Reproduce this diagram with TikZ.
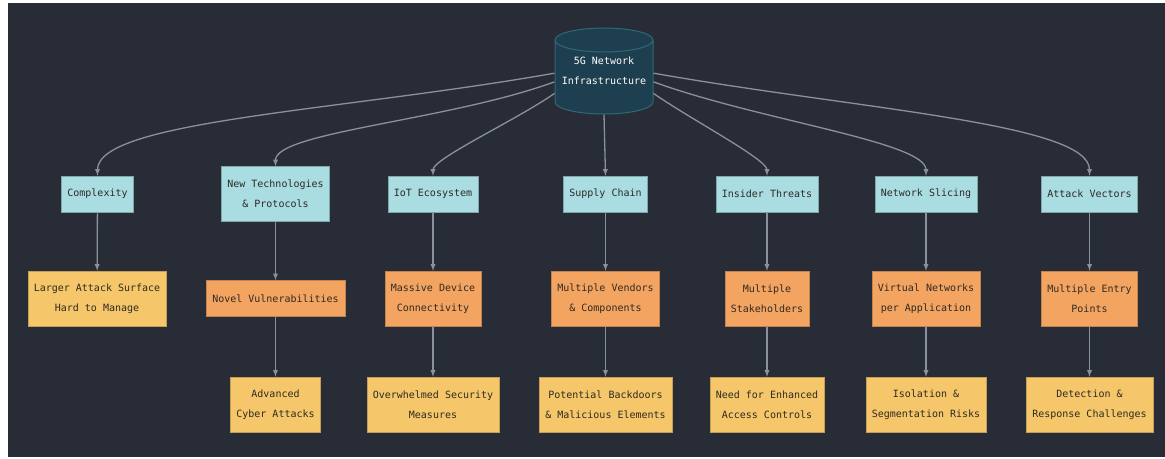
\documentclass[tikz,border=0pt]{standalone}
\usepackage{fontspec}
\setmonofont{DejaVu Sans Mono}
\usetikzlibrary{shapes}

\definecolor{bg}{HTML}{282C36}
\definecolor{cyanbox}{HTML}{AADDE2}
\definecolor{orangebox}{HTML}{F4A461}
\definecolor{yellowbox}{HTML}{F5C76A}
\definecolor{cylfill}{HTML}{1E3F4F}
\definecolor{cylline}{HTML}{2F6878}
\definecolor{edgegrey}{HTML}{8A909E}
\definecolor{ink}{HTML}{2E2A24}

\begin{document}
\begin{tikzpicture}[x=1pt, y=1pt,
		every node/.style={rectangle, font=\ttfamily\fontsize{10}{20}\selectfont, align=center, inner xsep=6pt, minimum height=36pt, text=ink},
		every path/.style={>=latex},
		area/.style={fill=cyanbox, draw=cyanbox!75!black},
		risk/.style={fill=orangebox, draw=orangebox!80!black},
		effect/.style={fill=yellowbox, draw=yellowbox!80!black},
		tall/.style={minimum height=55pt},
		link/.style={->, draw=edgegrey, line width=1.3pt}]
	\useasboundingbox (0,0) rectangle (1165,-458);
	\fill[bg] (8,-3) rectangle (1165,-457);

	\node[cylinder, shape border rotate=90, aspect=2, anchor=shape center, fill=cylfill, draw=cylline, line width=1pt, minimum width=98pt, minimum height=86pt] (Net) at (604,-71) {};
	\node[text=white] (NetText) at (Net.shape center) {5G Network\\Infrastructure};

	% first row
	\node[area] (Cpx) at (97.5,-194) {Complexity};
	\node[area, tall] (Tech) at (275.5,-194) {New Technologies\\\& Protocols};
	\node[area] (IoT) at (433,-194) {IoT Ecosystem};
	\node[area] (Sup) at (605.5,-194) {Supply Chain};
	\node[area] (Ins) at (767,-194) {Insider Threats};
	\node[area] (Sli) at (926,-194) {Network Slicing};
	\node[area] (Atk) at (1089.5,-194) {Attack Vectors};

	% second row
	\node[effect, tall] (Cpx1) at (97,-298.5) {Larger Attack Surface\\Hard to Manage};
	\node[risk] (Tech1) at (275.5,-298.5) {Novel Vulnerabilities};
	\node[risk, tall] (IoT1) at (433,-298.5) {Massive Device\\Connectivity};
	\node[risk, tall] (Sup1) at (605.5,-298.5) {Multiple Vendors\\\& Components};
	\node[risk, tall] (Ins1) at (767,-298.5) {Multiple\\Stakeholders};
	\node[risk, tall] (Sli1) at (926,-298.5) {Virtual Networks\\per Application};
	\node[risk, tall] (Atk1) at (1089.5,-298.5) {Multiple Entry\\Points};

	% third row
	\node[effect, tall] (Tech2) at (275.5,-404.5) {Advanced\\Cyber Attacks};
	\node[effect, tall] (IoT2) at (433,-404.5) {Overwhelmed Security\\Measures};
	\node[effect, tall] (Sup2) at (605.5,-404.5) {Potential Backdoors\\\& Malicious Elements};
	\node[effect, tall] (Ins2) at (767,-404.5) {Need for Enhanced\\Access Controls};
	\node[effect, tall] (Sli2) at (926,-404.5) {Isolation \&\\Segmentation Risks};
	\node[effect, tall] (Atk2) at (1089.5,-404.5) {Detection \&\\Response Challenges};

	\draw[link] (Net.172) to[out=190, in=90, out looseness=1.2, in looseness=0.3] (Cpx.north);
	\draw[link] (Net.182) to[out=200, in=90, out looseness=1.0, in looseness=0.3] (Tech.north);
	\draw[link] (Net.195) to[out=215, in=90, out looseness=0.8, in looseness=0.3] (IoT.north);
	\draw[link] (Net.270) -- (Sup.north);
	\draw[link] (Net.345) to[out=325, in=90, out looseness=0.8, in looseness=0.3] (Ins.north);
	\draw[link] (Net.358) to[out=340, in=90, out looseness=1.0, in looseness=0.3] (Sli.north);
	\draw[link] (Net.8) to[out=350, in=90, out looseness=1.2, in looseness=0.3] (Atk.north);

	\foreach \n in {Cpx, Tech, IoT, Sup, Ins, Sli, Atk}
		\draw[link] (\n) -- (\n1);
	\foreach \n in {Tech, IoT, Sup, Ins, Sli, Atk}
		\draw[link] (\n1) -- (\n2);
\end{tikzpicture}
\end{document}
